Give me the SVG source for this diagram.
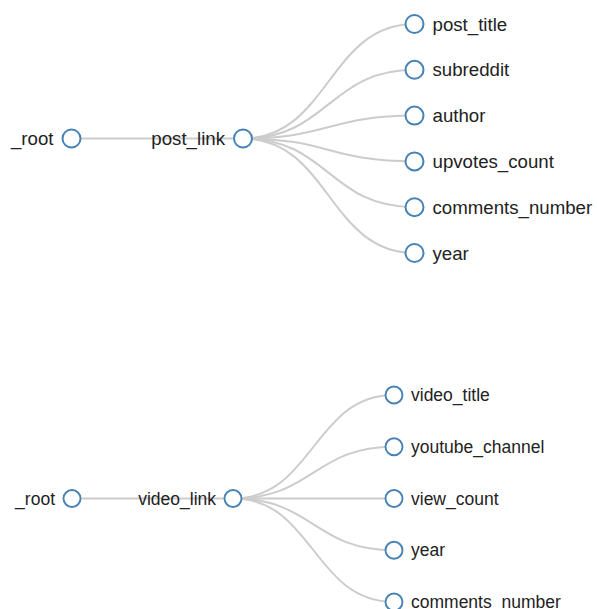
<svg xmlns="http://www.w3.org/2000/svg" width="597" height="609" viewBox="0 0 597 609">
<style>
.link{fill:none;stroke:#ccc;stroke-width:2}
.node circle{fill:#fff;stroke:#4682b4;stroke-width:2}
.node text{font-family:"Liberation Sans",Arial,sans-serif;font-size:18.67px;fill:#222}
.b text{font-size:17.5px}
.b circle{stroke-width:1.9}
.l text{text-anchor:end}
</style>
<rect width="597" height="609" fill="#fff"/>
<g id="links">
<path class="link" d="M71.5,138.5L243,138.5"/>
<path class="link" d="M243,138.5C328.75,138.5 328.75,24 414.5,24"/>
<path class="link" d="M243,138.5C328.75,138.5 328.75,69.8 414.5,69.8"/>
<path class="link" d="M243,138.5C328.75,138.5 328.75,115.6 414.5,115.6"/>
<path class="link" d="M243,138.5C328.75,138.5 328.75,161.4 414.5,161.4"/>
<path class="link" d="M243,138.5C328.75,138.5 328.75,207.2 414.5,207.2"/>
<path class="link" d="M243,138.5C328.75,138.5 328.75,253 414.5,253"/>
<path class="link" d="M72,498.5L233,498.5"/>
<path class="link" d="M233,498.5C313.5,498.5 313.5,395 394,395"/>
<path class="link" d="M233,498.5C313.5,498.5 313.5,446.75 394,446.75"/>
<path class="link" d="M233,498.5C313.5,498.5 313.5,498.5 394,498.5"/>
<path class="link" d="M233,498.5C313.5,498.5 313.5,550.25 394,550.25"/>
<path class="link" d="M233,498.5C313.5,498.5 313.5,602 394,602"/>
</g>
<g id="root1" class="node l" transform="translate(71.5,138.5)"><circle r="9"/><text x="-18" dy="0.35em">_root</text></g>
<g id="post_link" class="node l" transform="translate(243,138.5)"><circle r="9"/><text x="-18" dy="0.35em">post_link</text></g>
<g id="post_title" class="node" transform="translate(414.5,24)"><circle r="9"/><text x="18" dy="0.35em">post_title</text></g>
<g id="subreddit" class="node" transform="translate(414.5,69.8)"><circle r="9"/><text x="18" dy="0.35em">subreddit</text></g>
<g id="author" class="node" transform="translate(414.5,115.6)"><circle r="9"/><text x="18" dy="0.35em">author</text></g>
<g id="upvotes_count" class="node" transform="translate(414.5,161.4)"><circle r="9"/><text x="18" dy="0.35em">upvotes_count</text></g>
<g id="comments_number1" class="node" transform="translate(414.5,207.2)"><circle r="9"/><text x="18" dy="0.35em">comments_number</text></g>
<g id="year1" class="node" transform="translate(414.5,253)"><circle r="9"/><text x="18" dy="0.35em">year</text></g>
<g id="root2" class="node b l" transform="translate(72,498.5)"><circle r="8.5"/><text x="-17" dy="0.35em">_root</text></g>
<g id="video_link" class="node b l" transform="translate(233,498.5)"><circle r="8.5"/><text x="-17" dy="0.35em">video_link</text></g>
<g id="video_title" class="node b" transform="translate(394,395)"><circle r="8.5"/><text x="17" dy="0.35em">video_title</text></g>
<g id="youtube_channel" class="node b" transform="translate(394,446.75)"><circle r="8.5"/><text x="17" dy="0.35em">youtube_channel</text></g>
<g id="view_count" class="node b" transform="translate(394,498.5)"><circle r="8.5"/><text x="17" dy="0.35em">view_count</text></g>
<g id="year2" class="node b" transform="translate(394,550.25)"><circle r="8.5"/><text x="17" dy="0.35em">year</text></g>
<g id="comments_number2" class="node b" transform="translate(394,602)"><circle r="8.5"/><text x="17" dy="0.35em">comments_number</text></g>
</svg>
